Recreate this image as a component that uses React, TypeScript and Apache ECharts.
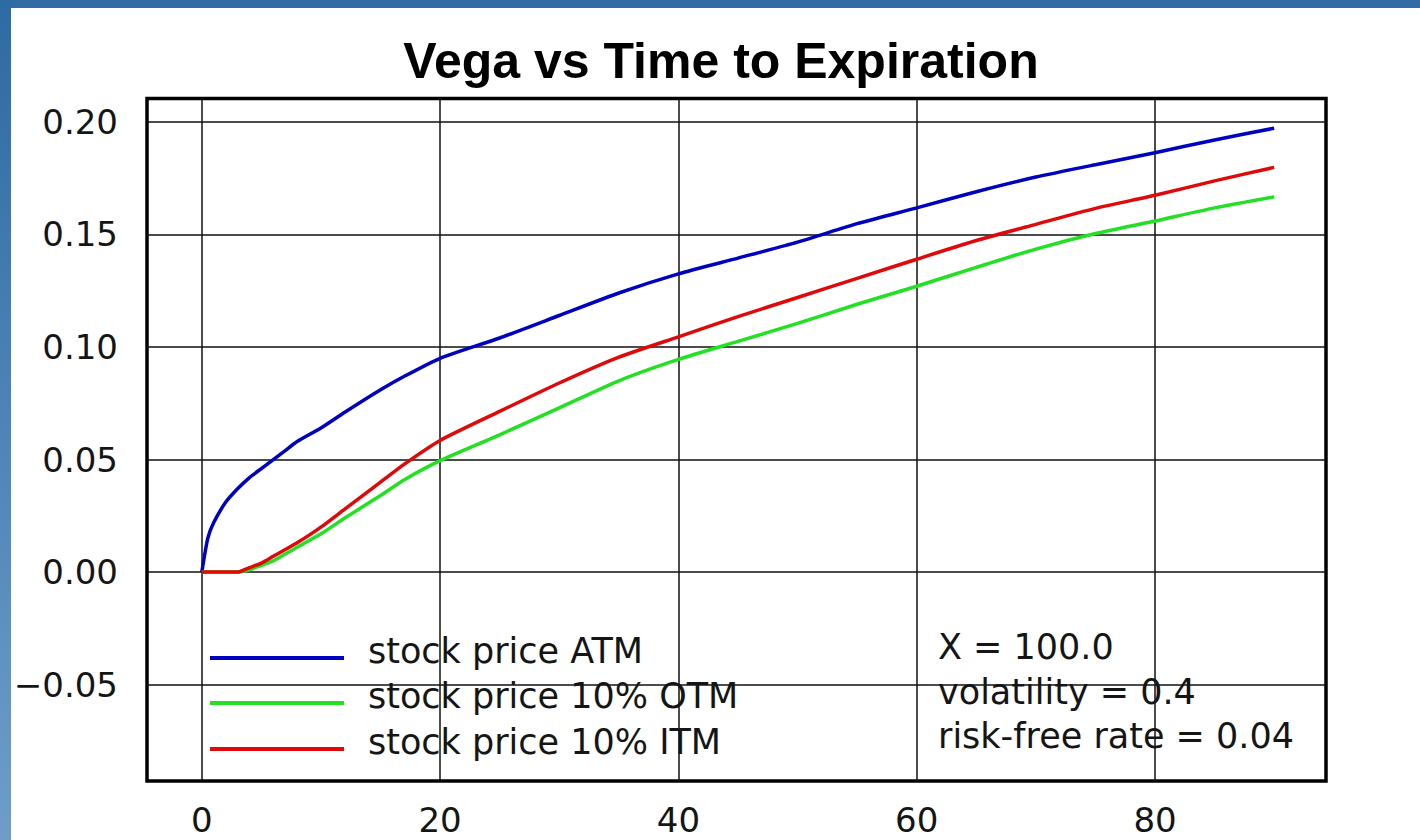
import React, { useEffect, useRef } from "react";
import * as echarts from "echarts";

// Time to expiration (days)
const days = [0, 0.5, 1, 2, 3, 4, 5, 6, 7, 8, 10, 12, 15, 17, 20, 25, 30, 35, 40, 45, 50, 55, 60, 65, 70, 75, 80, 85, 90];
// Vega readings per series
const vegaATM = [0, 0.015, 0.022, 0.031, 0.037, 0.042, 0.046, 0.05, 0.054, 0.058, 0.064, 0.071, 0.081, 0.087, 0.095, 0.104, 0.114, 0.124, 0.1325, 0.1395, 0.1466, 0.1548, 0.1618, 0.169, 0.1755, 0.181, 0.1863, 0.192, 0.1972];
const vegaOTM = [0, 0, 0, 0, 0, 0.001, 0.003, 0.005, 0.008, 0.011, 0.017, 0.024, 0.034, 0.041, 0.0495, 0.061, 0.073, 0.085, 0.0945, 0.1025, 0.1105, 0.119, 0.127, 0.1354, 0.1435, 0.1504, 0.156, 0.1618, 0.1667];
const vegaITM = [0, 0, 0, 0, 0, 0.002, 0.004, 0.007, 0.01, 0.013, 0.02, 0.028, 0.04, 0.048, 0.0585, 0.0714, 0.084, 0.0955, 0.1045, 0.1135, 0.122, 0.1305, 0.139, 0.1473, 0.1545, 0.1616, 0.1674, 0.1738, 0.1798];

const xTicks = [0, 20, 40, 60, 80];
const yTicks = [-0.05, 0, 0.05, 0.1, 0.15, 0.2];
const seriesNames = ["stock price ATM", "stock price 10% OTM", "stock price 10% ITM"];
const seriesColors = ["#0000c0", "#22e022", "#e00808"];
const notes = ["X = 100.0", "volatility = 0.4", "risk-free rate = 0.04"];
const titleText = "Vega vs Time to Expiration";

const FONT = "'DejaVu Sans', Verdana, sans-serif";

export default function App() {
  const ref = useRef<HTMLDivElement>(null);
  useEffect(() => {
    if (!ref.current) return;
    const chart = echarts.init(ref.current, null, { renderer: "svg" });
    const seriesData = [vegaATM, vegaOTM, vegaITM];
    const legendY = [658, 703, 749];
    const noteY = [647, 692, 736];
    const graphics: any[] = [
      { type: "rect", shape: { x: 0, y: 0, width: 1420, height: 8 }, style: { fill: "#336ca3" }, silent: true },
      {
        type: "rect",
        shape: { x: 0, y: 0, width: 11, height: 840 },
        style: {
          fill: new echarts.graphic.LinearGradient(0, 0, 0, 1, [
            { offset: 0, color: "#2e6aa4" },
            { offset: 1, color: "#6e9dca" },
          ]),
        },
        silent: true,
      },
      {
        type: "text",
        x: 721,
        y: 61,
        style: {
          text: titleText,
          fontSize: 50,
          fontWeight: "bold",
          fontFamily: "'Liberation Sans', Arial, sans-serif",
          fill: "#000",
          align: "center",
          verticalAlign: "middle",
          textAlign: "center",
          textVerticalAlign: "middle",
        },
      },
    ];
    seriesNames.forEach((name, i) => {
      graphics.push({
        type: "line",
        z: 10,
        shape: { x1: 210, y1: legendY[i], x2: 344, y2: legendY[i] },
        style: { stroke: seriesColors[i], lineWidth: 4 },
      });
      graphics.push({
        type: "text",
        z: 10,
        x: 368,
        y: legendY[i] - 7,
        style: {
          text: name,
          fontSize: 35,
          fontFamily: FONT,
          fill: "#151515",
          align: "left",
          verticalAlign: "middle",
          textAlign: "left",
          textVerticalAlign: "middle",
        },
      });
    });
    notes.forEach((t, i) => {
      graphics.push({
        type: "text",
        z: 10,
        x: 938,
        y: noteY[i],
        style: {
          text: t,
          fontSize: 35,
          fontFamily: FONT,
          fill: "#151515",
          align: "left",
          verticalAlign: "middle",
          textAlign: "left",
          textVerticalAlign: "middle",
        },
      });
    });

    chart.setOption({
      animation: false,
      backgroundColor: "#ffffff",
      grid: {
        left: 147,
        top: 98.5,
        width: 1179,
        height: 682.5,
        show: true,
        borderColor: "#000",
        borderWidth: 3.5,
        backgroundColor: "transparent",
      },
      xAxis: {
        type: "value",
        min: -4.6,
        max: 94.35,
        axisLine: { show: false, onZero: false },
        axisTick: { show: false, customValues: xTicks },
        axisLabel: {
          customValues: xTicks,
          margin: 22,
          fontSize: 34,
          fontFamily: FONT,
          color: "#151515",
        },
        splitLine: { show: true, lineStyle: { color: "#111", width: 1.5 } },
      },
      yAxis: {
        type: "value",
        min: -0.0928,
        max: 0.2104,
        axisLine: { show: false, onZero: false },
        axisTick: { show: false, customValues: yTicks },
        axisLabel: {
          customValues: yTicks,
          margin: 29,
          fontSize: 34,
          fontFamily: FONT,
          color: "#151515",
          padding: [7, 0, 0, 0],
          formatter: (v: number) => (v < -1e-9 ? "\u2212" : "") + Math.abs(v).toFixed(2),
        },
        splitLine: { show: true, lineStyle: { color: "#111", width: 1.5 } },
      },
      series: seriesNames.map((name, i) => ({
        name,
        type: "line",
        showSymbol: false,
        symbol: "none",
        smooth: 0.2,
        data: days.map((d, j) => [d, seriesData[i][j]]),
        lineStyle: { color: seriesColors[i], width: 3.5 },
        itemStyle: { color: seriesColors[i] },
        z: 3,
      })),
      graphic: graphics,
    });
    return () => chart.dispose();
  }, []);
  return (
    <div
      ref={ref}
      style={{ position: "absolute", left: 0, top: 0, width: 1420, height: 840 }}
    />
  );
}
